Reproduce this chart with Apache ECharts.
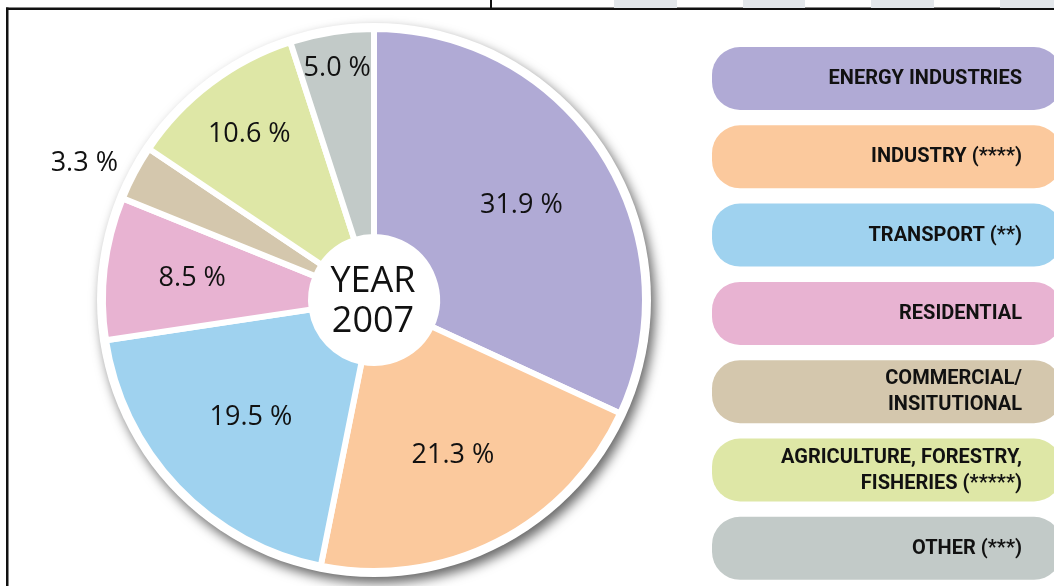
<!DOCTYPE html>
<html>
<head>
<meta charset="utf-8">
<script src="https://cdn.jsdelivr.net/npm/echarts@6/dist/echarts.min.js"></script>
<style>
  html, body { margin: 0; padding: 0; background: #fff; }
  #chart { width: 1054px; height: 586px; }
</style>
</head>
<body>
<div id="chart"></div>
<script>
// emissions by sector, year 2007 (%)
const sectors = [
  'ENERGY INDUSTRIES',
  'INDUSTRY (****)',
  'TRANSPORT (**)',
  'RESIDENTIAL',
  'COMMERCIAL/\nINSITUTIONAL',
  'AGRICULTURE, FORESTRY,\nFISHERIES (*****)',
  'OTHER (***)'
]
const shares = [31.9, 21.3, 19.5, 8.5, 3.3, 10.6, 5.0]
const sectorColors = ['#b0aad5', '#fbc99d', '#9fd2ef', '#e8b3d2', '#d4c7ad', '#dee7a6', '#c2cac8']
const yearText = ['YEAR', '2007']

// label nudges in px: [out from ring middle, along the ring]
const labelPush = [[5, 0], [4, 0], [0, 0], [13, 0], [150, -15], [37, 0], [65, 0]]

const chart = echarts.init(document.getElementById('chart'))

// middle angle of each slice, clockwise from 12 o'clock
const total = shares.reduce((a, b) => a + b, 0)
const midAngles = []
let acc = 0
shares.forEach(v => {
  midAngles.push((acc + v / 2) / total * Math.PI * 2)
  acc += v
})

// page frame lines and the grey tabs at the top
const frame = [
  { type: 'rect', shape: { x: 6, y: 7.5, width: 1048, height: 2.5 }, style: { fill: '#111' } },
  { type: 'rect', shape: { x: 6, y: 7.5, width: 2.5, height: 579 }, style: { fill: '#111' } },
  { type: 'rect', shape: { x: 490, y: 0, width: 2, height: 8 }, style: { fill: '#111' } }
]
;[[614, 63], [743, 62], [871, 63], [1000, 54]].forEach(t => {
  frame.push({ type: 'rect', shape: { x: t[0], y: 0, width: t[1], height: 8 }, style: { fill: '#e3e7eb' } })
})

// legend pills on the right
const legendItems = []
sectors.forEach((name, i) => {
  const top = 47 + i * 78.3
  legendItems.push({
    type: 'rect',
    shape: { x: 712, y: top, width: 350, height: 63, r: 28 },
    style: { fill: sectorColors[i] }
  })
  legendItems.push({
    type: 'text',
    x: 1022,
    y: top + 32,
    style: {
      text: name,
      align: 'right',
      verticalAlign: 'middle',
      fontFamily: 'Roboto',
      fontWeight: 'bold',
      fontSize: 20,
      lineHeight: 26,
      fill: '#111'
    }
  })
})

const option = {
  animation: false,
  graphic: [
    ...frame,
    ...legendItems,
    {
      type: 'text',
      x: 373,
      y: 302,
      z: 10,
      style: {
        text: yearText.join('\n'),
        align: 'center',
        verticalAlign: 'middle',
        fontFamily: 'Open Sans',
        fontSize: 36,
        lineHeight: 40,
        fill: '#111'
      }
    }
  ],
  series: [
    {
      // white disc behind the pie, gives the ring and drop shadow
      type: 'pie',
      silent: true,
      center: [374, 300],
      radius: [0, 277],
      data: [{ value: 1, name: 'bg' }],
      itemStyle: {
        color: '#fff',
        shadowBlur: 12,
        shadowColor: 'rgba(0,0,0,0.6)',
        shadowOffsetX: 4,
        shadowOffsetY: 6
      },
      label: { show: false },
      labelLine: { show: false },
      emphasis: { disabled: true }
    },
    {
      type: 'pie',
      center: [374, 300],
      radius: [63, 271],
      startAngle: 90,
      avoidLabelOverlap: false,
      data: sectors.map((name, i) => ({
        name: name,
        value: shares[i],
        itemStyle: { color: sectorColors[i] }
      })),
      itemStyle: { borderColor: '#fff', borderWidth: 6 },
      label: {
        show: true,
        position: 'inside',
        formatter: p => p.value.toFixed(1) + ' %',
        fontFamily: 'Open Sans',
        fontSize: 27,
        color: '#111',
        textBorderWidth: 0
      },
      labelLine: { show: false },
      labelLayout: p => {
        const a = midAngles[p.dataIndex]
        const r = labelPush[p.dataIndex][0]
        const t = labelPush[p.dataIndex][1]
        return {
          dx: r * Math.sin(a) + t * Math.cos(a),
          dy: -r * Math.cos(a) + t * Math.sin(a)
        }
      },
      emphasis: { disabled: true }
    }
  ]
}

chart.setOption(option)
</script>
</body>
</html>
